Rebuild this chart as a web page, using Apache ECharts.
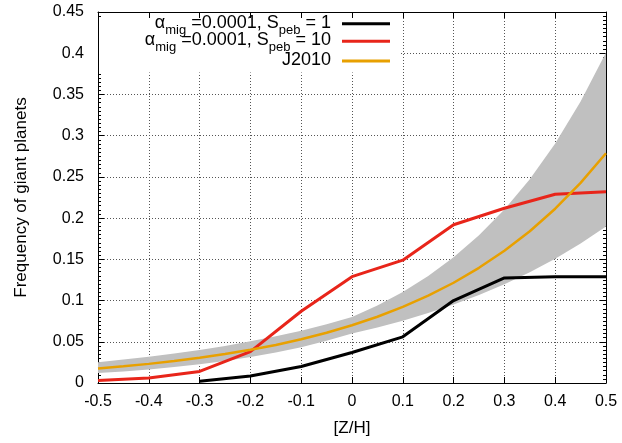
<!DOCTYPE html>
<html><head><meta charset="utf-8">
<script src="https://cdn.jsdelivr.net/npm/echarts@6/dist/echarts.min.js"></script>
<style>html,body{margin:0;padding:0;background:#fff}#c{width:622px;height:443px}</style>
</head><body><div id="c"></div>
<script>
// Data
const zh = [-0.5, -0.4, -0.3, -0.2, -0.1, 0, 0.1, 0.2, 0.3, 0.4, 0.5];
const freqSpeb1 = [null, null, 0.002, 0.0085, 0.020, 0.037, 0.056, 0.100, 0.1275, 0.129, 0.129];
const freqSpeb10 = [0.003, 0.006, 0.014, 0.038, 0.087, 0.129, 0.149, 0.192, 0.212, 0.229, 0.232];

const zhFine = [-0.5, -0.45, -0.4, -0.35, -0.3, -0.25, -0.2, -0.15, -0.1, -0.05, 0,
                0.05, 0.1, 0.15, 0.2, 0.25, 0.3, 0.35, 0.4, 0.45, 0.5];
const j2010 = [0.0176, 0.0202, 0.0232, 0.0266, 0.0306, 0.0351, 0.0403, 0.0462, 0.0531, 0.0610, 0.070,
               0.0804, 0.0923, 0.1060, 0.1216, 0.1397, 0.1604, 0.1841, 0.2114, 0.2427, 0.2787];
const j2010Upper = [0.0253, 0.0284, 0.0318, 0.0357, 0.0401, 0.0450, 0.0505, 0.0566, 0.0635, 0.0713, 0.080,
                    0.0940, 0.1104, 0.1297, 0.1524, 0.1791, 0.2104, 0.2472, 0.2905, 0.3413, 0.4010];
const j2010Lower = [0.0120, 0.0141, 0.0165, 0.0194, 0.0228, 0.0268, 0.0315, 0.0370, 0.0435, 0.0511, 0.060,
                    0.0673, 0.0755, 0.0848, 0.0951, 0.1067, 0.1197, 0.1343, 0.1507, 0.1691, 0.1897];

const xTicks = {min: -0.5, max: 0.5, interval: 0.1};
const yTicks = {min: 0, max: 0.45, interval: 0.05};

const NAME1 = 'amig=0.0001, Speb=1';
const NAME10 = 'amig=0.0001, Speb=10';
const NAMEJ = 'J2010';

const FONT = '"Liberation Sans", Arial, Helvetica, sans-serif';
const fmt = v => String(parseFloat(Number(v).toFixed(3)));

const pairs = (xs, ys) => xs.map((x, i) => [x, ys[i]]);

const rich = {
  m: {fontSize: 18, fontFamily: FONT, color: '#000', lineHeight: 20, verticalAlign: 'top'},
  s: {fontSize: 13, fontFamily: FONT, color: '#000', lineHeight: 14, verticalAlign: 'top', padding: [10, 0, 0, 0]},
  g: {width: 6, lineHeight: 20}
};
const legendText = {
  [NAME1]: '{m|α}{s|mig}{m| =0.0001, S}{s|peb}{m| = 1}{g|}',
  [NAME10]: '{m|α}{s|mig}{m| =0.0001, S}{s|peb}{m| = 10}{g|}',
  [NAMEJ]: '{m|J2010}{g|}'
};
function mkLegend(name, top) {
  return {
    data: [name], right: 232, top: top, orient: 'vertical', align: 'right',
    icon: 'rect', itemWidth: 48, itemHeight: 3, padding: 0, z: 5,
    formatter: n => legendText[n],
    textStyle: {rich: rich, fontFamily: FONT, fontSize: 18, color: '#000'},
    selectedMode: false
  };
}

const axisCommonX = Object.assign({type: 'value'}, xTicks);
const axisCommonY = Object.assign({type: 'value'}, yTicks);

const chart = echarts.init(document.getElementById('c'), null, {renderer: 'canvas'});
chart.setOption({
  animation: false,
  backgroundColor: '#fff',
  grid: {left: 98, right: 16, top: 12, bottom: 60, show: false},
  legend: [mkLegend(NAME1, 13.7), mkLegend(NAME10, 31.3), mkLegend(NAMEJ, 51)],
  graphic: [{
    type: 'rect', z: 1, silent: true,
    shape: {x: 99, y: 18, width: 301, height: 54.5},
    style: {fill: '#fff'}
  }],
  xAxis: [
    Object.assign({}, axisCommonX, {
      position: 'bottom',
      name: '[Z/H]', nameLocation: 'middle', nameGap: 37,
      nameTextStyle: {fontSize: 17, color: '#000', fontFamily: FONT},
      axisLine: {show: true, onZero: false, lineStyle: {color: '#000', width: 1}},
      axisTick: {show: true, inside: true, length: 6, lineStyle: {color: '#000'}},
      axisLabel: {margin: 11, fontSize: 16, color: '#000', fontFamily: FONT, formatter: fmt},
      splitLine: {show: true, lineStyle: {color: '#555', width: 1, type: [1, 2]}}
    }),
    Object.assign({}, axisCommonX, {
      position: 'top',
      axisLine: {show: true, onZero: false, lineStyle: {color: '#000', width: 1}},
      axisTick: {show: true, inside: true, length: 6, lineStyle: {color: '#000'}},
      axisLabel: {show: false},
      splitLine: {show: false}
    })
  ],
  yAxis: [
    Object.assign({}, axisCommonY, {
      position: 'left',
      name: 'Frequency of giant planets', nameLocation: 'middle', nameGap: 68,
      nameTextStyle: {fontSize: 17, color: '#000', fontFamily: FONT},
      axisLine: {show: true, onZero: false, lineStyle: {color: '#000', width: 1}},
      axisTick: {show: true, inside: true, length: 6, lineStyle: {color: '#000'}},
      minorTick: {show: true, splitNumber: 10, length: 3, lineStyle: {color: '#000'}},
      axisLabel: {margin: 14, fontSize: 16, color: '#000', fontFamily: FONT, formatter: fmt},
      splitLine: {show: true, lineStyle: {color: '#555', width: 1, type: [1, 2]}}
    }),
    Object.assign({}, axisCommonY, {
      position: 'right',
      axisLine: {show: true, onZero: false, lineStyle: {color: '#000', width: 1}},
      axisTick: {show: true, inside: true, length: 6, lineStyle: {color: '#000'}},
      minorTick: {show: true, splitNumber: 10, length: 3, lineStyle: {color: '#000'}},
      axisLabel: {show: false},
      splitLine: {show: false}
    })
  ],
  series: [
    {
      type: 'custom', name: 'J2010 range', xAxisIndex: 0, yAxisIndex: 0, silent: true,
      data: [[0, 0.07]],
      renderItem: function (params, api) {
        const pts = [];
        for (let i = 0; i < zhFine.length; i++) pts.push(api.coord([zhFine[i], j2010Upper[i]]));
        for (let i = zhFine.length - 1; i >= 0; i--) pts.push(api.coord([zhFine[i], j2010Lower[i]]));
        return {type: 'polygon', shape: {points: pts}, style: {fill: '#c0c0c0'}};
      },
      z: 2
    },
    {
      type: 'line', name: NAME1, data: pairs(zh, freqSpeb1), showSymbol: false, symbol: 'none',
      lineStyle: {color: '#000', width: 3}, itemStyle: {color: '#000'}, z: 3
    },
    {
      type: 'line', name: NAME10, data: pairs(zh, freqSpeb10), showSymbol: false, symbol: 'none',
      lineStyle: {color: '#e8251a', width: 3}, itemStyle: {color: '#e8251a'}, z: 3
    },
    {
      type: 'line', name: NAMEJ, data: pairs(zhFine, j2010), showSymbol: false, symbol: 'none', smooth: false,
      lineStyle: {color: '#e8a000', width: 2.5}, itemStyle: {color: '#e8a000'}, z: 4
    }
  ]
});
</script>
</body></html>
